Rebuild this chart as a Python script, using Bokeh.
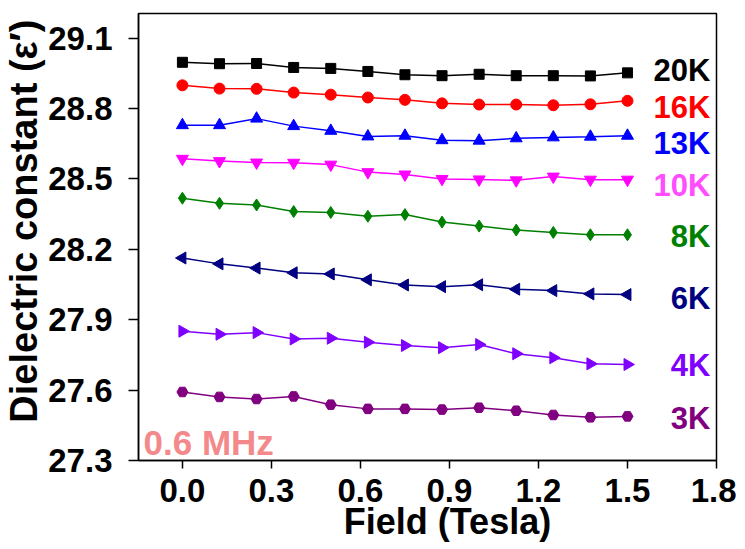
import math
from bokeh.plotting import figure
from bokeh.models import FixedTicker, PrintfTickFormatter, Range1d, Label
from bokeh.core.properties import value
from bokeh.embed import file_html
from bokeh.resources import INLINE

# ---- data ----
field = [0.0, 0.125, 0.25, 0.375, 0.5, 0.625, 0.75, 0.875, 1.0, 1.125, 1.25, 1.375, 1.5]

eps_20K = [28.997, 28.991, 28.992, 28.975, 28.971, 28.958, 28.944, 28.940, 28.946, 28.940, 28.940, 28.939, 28.952]
eps_16K = [28.899, 28.885, 28.884, 28.868, 28.859, 28.847, 28.837, 28.822, 28.817, 28.817, 28.814, 28.818, 28.833]
eps_13K = [28.729, 28.729, 28.757, 28.725, 28.705, 28.681, 28.684, 28.665, 28.663, 28.673, 28.677, 28.680, 28.684]
eps_10K = [28.586, 28.576, 28.570, 28.569, 28.561, 28.529, 28.519, 28.500, 28.498, 28.494, 28.510, 28.497, 28.497]
eps_8K = [28.418, 28.396, 28.389, 28.361, 28.357, 28.341, 28.348, 28.316, 28.299, 28.282, 28.272, 28.262, 28.262]
eps_6K = [28.163, 28.138, 28.120, 28.100, 28.095, 28.070, 28.048, 28.041, 28.049, 28.030, 28.024, 28.010, 28.007]
eps_4K = [27.851, 27.838, 27.845, 27.818, 27.821, 27.804, 27.790, 27.781, 27.794, 27.755, 27.738, 27.712, 27.709]
eps_3K = [27.592, 27.571, 27.562, 27.573, 27.538, 27.520, 27.520, 27.517, 27.525, 27.512, 27.494, 27.484, 27.488]

series_names = ["20K", "16K", "13K", "10K", "8K", "6K", "4K", "3K"]
series_values = [eps_20K, eps_16K, eps_13K, eps_10K, eps_8K, eps_6K, eps_4K, eps_3K]

x_ticks = [0.0, 0.3, 0.6, 0.9, 1.2, 1.5, 1.8]
y_ticks = [27.3, 27.6, 27.9, 28.2, 28.5, 28.8, 29.1]

# ---- styles ----
colors = ["#000000", "#FF0000", "#0000FF", "#FF00FF", "#008000", "#000080", "#8000FF", "#800080"]
label_colors = ["#000000", "#FF0000", "#0000FF", "#FF4DFF", "#008000", "#000080", "#8000FF", "#800080"]
markers = ["square", "circle", "triangle", "inverted_triangle", "diamond", "triangle", "triangle", "hex"]
angles = [0, 0, 0, 0, 0, math.pi / 2, -math.pi / 2, 0]
sizes = [10, 11, 12, 12, 12, 12, 12, 11]
label_y = [28.961, 28.806, 28.649, 28.470, 28.253, 27.989, 27.704, 27.479]

FONT = "Liberation Sans"
NB = "\u00a0"

p = figure(width=736, height=544, output_backend="svg", toolbar_location=None,
           x_range=Range1d(-0.148, 1.8), y_range=Range1d(27.3, 29.205),
           min_border_left=136, min_border_right=20, min_border_top=13, min_border_bottom=83)
p.background_fill_color = "white"
p.border_fill_color = "white"
p.grid.visible = False
p.outline_line_color = "black"
p.outline_line_width = 1.5

for name, vals, c, m, a, s in zip(series_names, series_values, colors, markers, angles, sizes):
    p.line(field, vals, line_color=c, line_width=1.5)
    p.scatter(field, vals, marker=m, angle=a, size=s, fill_color=c, line_color=c)

p.text(x=[1.779] * len(series_names), y=label_y, text=series_names,
       text_color=label_colors, text_font=value(FONT), text_font_style="bold",
       text_font_size="31px", text_align="right", text_baseline="middle")

p.add_layout(Label(x=-0.131, y=27.378, text="0.6 MHz", text_color="#F4898B",
                   text_font=FONT, text_font_style="bold", text_font_size="35px",
                   text_baseline="alphabetic", text_align="left"))

p.xaxis.ticker = FixedTicker(ticks=x_ticks)
p.yaxis.ticker = FixedTicker(ticks=y_ticks)
p.xaxis.formatter = PrintfTickFormatter(format="%.1f")
p.yaxis.formatter = PrintfTickFormatter(format="%.1f")
for ax in (p.xaxis, p.yaxis):
    ax.axis_line_color = "black"
    ax.axis_line_width = 1.5
    ax.major_tick_line_color = "black"
    ax.major_tick_line_width = 1.5
    ax.major_tick_in = 0
    ax.minor_tick_line_color = None
    ax.major_label_text_font = FONT
    ax.major_label_text_font_style = "bold"
    ax.major_label_text_font_size = "33px"
    ax.major_label_text_color = "black"
    ax.axis_label_text_font = FONT
    ax.axis_label_text_font_style = "bold"
    ax.axis_label_text_color = "black"

p.xaxis.major_tick_out = 8
p.yaxis.major_tick_out = 10
p.xaxis.major_label_standoff = 10
p.yaxis.major_label_standoff = 16
# no-break spaces nudge the titles off-centre like in the reference
p.xaxis.axis_label = NB * 4 + "Field (Tesla)"
p.yaxis.axis_label = NB * 3 + "Dielectric constant (\u03b5\u2032)"
p.xaxis.axis_label_text_font_size = "36px"
p.yaxis.axis_label_text_font_size = "38px"
p.xaxis.axis_label_standoff = -4
p.yaxis.axis_label_standoff = 0

open("out.html", "w").write(file_html(p, INLINE))
